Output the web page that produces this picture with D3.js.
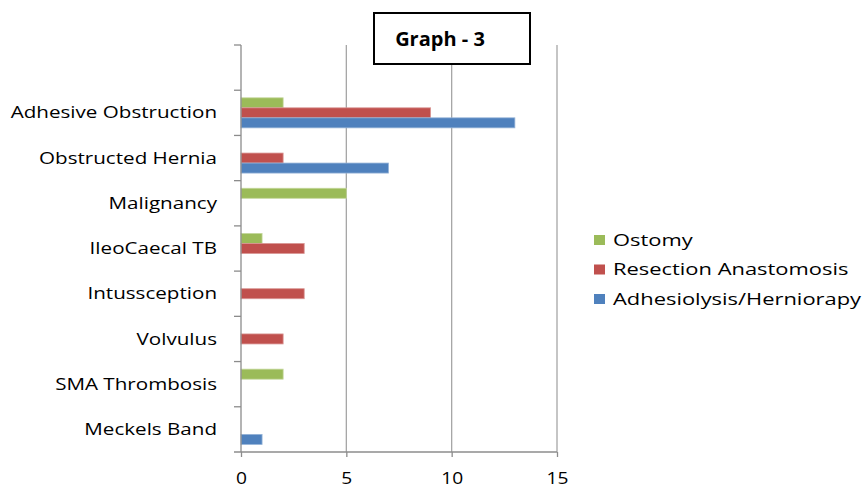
<!DOCTYPE html>
<html>
<head>
<meta charset="utf-8">
<script src="https://cdn.jsdelivr.net/npm/d3@7"></script>
<style>
  html, body { margin: 0; padding: 0; background: #fff; }
  svg { display: block; }
  text { font-family: "Open Sans", "DejaVu Sans", sans-serif; fill: #000; }
</style>
</head>
<body>
<svg id="chart" width="862" height="489"></svg>
<script>
// ---- data ----
const categories = ["", "Adhesive Obstruction", "Obstructed Hernia", "Malignancy", "IleoCaecal TB",
                    "Intussception", "Volvulus", "SMA Thrombosis", "Meckels Band"];
const seriesNames = ["Ostomy", "Resection Anastomosis", "Adhesiolysis/Herniorapy"];
const ostomy      = [0, 2, 0, 5, 1, 0, 0, 2, 0];
const resection   = [0, 9, 2, 0, 3, 3, 2, 0, 0];
const adhesiolysis= [0, 13, 7, 0, 0, 0, 0, 0, 1];
const xTicks = [0, 5, 10, 15];
const titleText = "Graph - 3";

const seriesValues = [ostomy, resection, adhesiolysis];
const colors = ["#9BBB59", "#C0504D", "#4F81BD"];
const strokes = ["#c3d69b", "#d99694", "#95b3d7"];

// ---- layout ----
const svg = d3.select("#chart");
const plot = { left: 241, right: 557, top: 45, bottom: 452 };
const labelStretch = 1.33;   // reference text is horizontally stretched
const tickStretch = 1.2;
const legendStretch = 1.37;

const x = d3.scaleLinear().domain([0, 15]).range([plot.left, plot.right]);
const y = d3.scaleBand().domain(categories).range([plot.top, plot.bottom])
  .paddingInner(0.336).paddingOuter(0.168);
const ySub = d3.scaleBand().domain(seriesNames).range([0, y.bandwidth()]);

// gridlines
svg.append("g").selectAll("line")
  .data(xTicks.filter(d => d > 0))
  .join("line")
  .attr("x1", d => x(d)).attr("x2", d => x(d))
  .attr("y1", plot.top).attr("y2", plot.bottom)
  .attr("stroke", "#a6a6a6").attr("stroke-width", 1.3);

// bars
const bars = [];
categories.forEach((c, i) => {
  seriesNames.forEach((s, j) => {
    const v = seriesValues[j][i];
    if (v > 0) bars.push({ c, s, j, v });
  });
});
svg.append("g").selectAll("rect")
  .data(bars)
  .join("rect")
  .attr("x", x(0))
  .attr("y", d => y(d.c) + ySub(d.s))
  .attr("width", d => x(d.v) - x(0))
  .attr("height", ySub.bandwidth())
  .attr("fill", d => colors[d.j])
  .attr("stroke", d => strokes[d.j])
  .attr("stroke-width", 0.8);

// x axis
const xAxis = svg.append("g")
  .attr("transform", `translate(0,${plot.bottom})`)
  .call(d3.axisBottom(x).tickValues(xTicks).tickSize(5).tickSizeOuter(0).tickPadding(16));
xAxis.select(".domain").remove();
xAxis.selectAll(".tick line").attr("stroke", "#8c8c8c").attr("stroke-width", 1.3);
xAxis.selectAll(".tick text").attr("font-size", "16px").attr("fill", "#000")
  .attr("font-family", "'Open Sans', sans-serif")
  .attr("transform", `scale(${tickStretch},1)`);
svg.append("line")
  .attr("x1", plot.left - 7).attr("x2", plot.right)
  .attr("y1", plot.bottom).attr("y2", plot.bottom)
  .attr("stroke", "#8c8c8c").attr("stroke-width", 1.3);

// y axis
const yAxis = svg.append("g")
  .attr("transform", `translate(${plot.left},0)`)
  .call(d3.axisLeft(y).tickSize(0).tickPadding(24));
yAxis.select(".domain").remove();
yAxis.selectAll(".tick text").attr("font-size", "15.5px").attr("fill", "#000")
  .attr("font-family", "'Open Sans', sans-serif")
  .attr("x", -24 / labelStretch)
  .attr("dy", "0.36em")
  .attr("transform", `scale(${labelStretch},1)`);
svg.append("line")
  .attr("x1", plot.left).attr("x2", plot.left)
  .attr("y1", plot.top).attr("y2", plot.bottom)
  .attr("stroke", "#8c8c8c").attr("stroke-width", 1.3);
// category boundary ticks
const boundaries = categories.map(c => y(c) - y.step() * y.paddingInner() / 2);
svg.append("g").selectAll("line")
  .data(boundaries)
  .join("line")
  .attr("x1", plot.left - 7).attr("x2", plot.left)
  .attr("y1", d => d).attr("y2", d => d)
  .attr("stroke", "#8c8c8c").attr("stroke-width", 1.3);

// title box
const tb = svg.append("g");
tb.append("rect").attr("x", 374).attr("y", 13).attr("width", 156).attr("height", 51)
  .attr("fill", "#fff").attr("stroke", "#000").attr("stroke-width", 2);
tb.append("text").attr("x", 440).attr("y", 46).attr("text-anchor", "middle")
  .attr("font-size", "20px").attr("font-weight", "bold").text(titleText);

// legend
const lg = svg.append("g").attr("transform", "translate(594,240)");
seriesNames.forEach((s, j) => {
  const g = lg.append("g").attr("transform", `translate(0,${j * 29.5})`);
  g.append("rect").attr("x", 0).attr("y", -5).attr("width", 11).attr("height", 10)
    .attr("fill", colors[j]);
  g.append("text").attr("x", 19 / legendStretch).attr("y", 0).attr("dy", "0.35em")
    .attr("font-size", "16px")
    .attr("transform", `scale(${legendStretch},1)`)
    .text(s);
});
</script>
</body>
</html>
